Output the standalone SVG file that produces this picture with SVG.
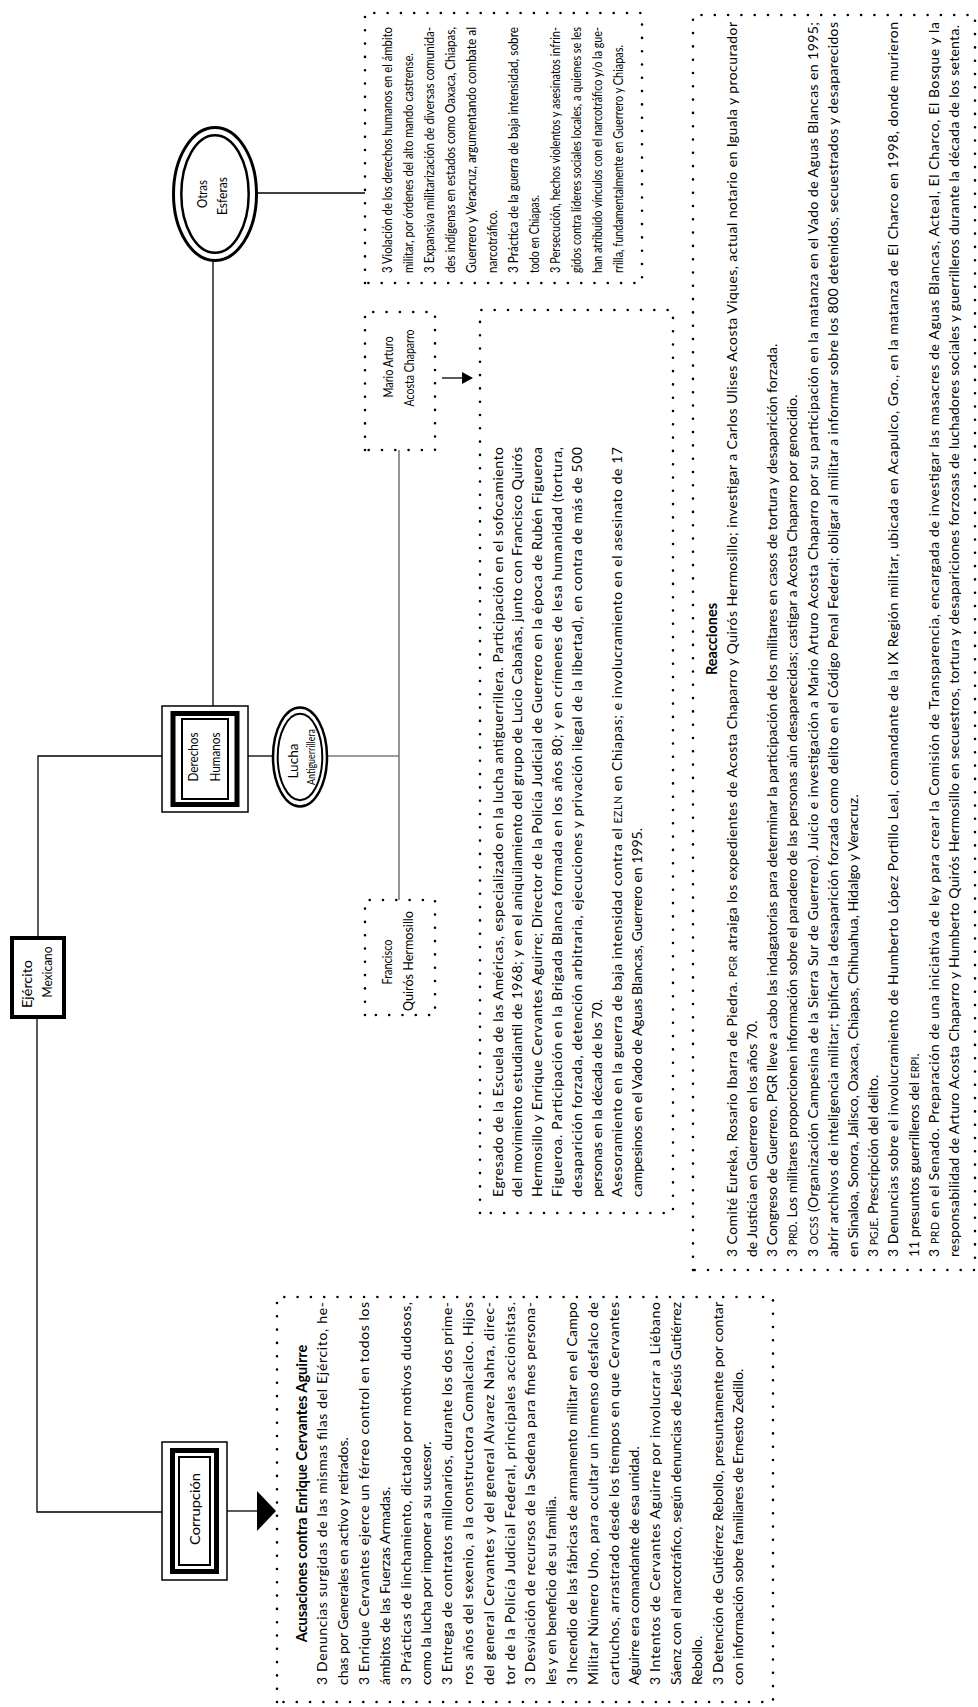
<svg xmlns="http://www.w3.org/2000/svg" width="978" height="1707" viewBox="0 0 978 1707">
<style>
 text{font-family:Lato,"Open Sans","Liberation Sans",sans-serif;fill:#000}
 .b{font-size:14px}
 .m{font-size:14px}
 .o{font-size:13px}
 .t{font-size:14.5px;font-weight:bold}
 .lbl{font-size:14px}
 .sc{font-size:10.5px}
 .dot{fill:none;stroke:#000;stroke-width:2.6;stroke-linecap:round;stroke-dasharray:0 13.3}
 .ln{fill:none;stroke:#000;stroke-width:1.3}
 .gr{fill:none;stroke:#7a7a7a;stroke-width:1.6}
 .thin{fill:#fff;stroke:#000;stroke-width:1.5}
 .thick{fill:none;stroke:#000;stroke-width:5}
 .in{fill:none;stroke:#000;stroke-width:2}
</style>
<rect width="978" height="1707" fill="#fff"/>
<g transform="translate(0,1707) rotate(-90)">
 <g id="connectors">
  <polyline class="ln" points="771,38 951,38 951,162"/>
  <polyline class="ln" points="688,37 195,37 195,162"/>
  <line class="ln" x1="1001" y1="213" x2="1446" y2="213"/>
  <line class="ln" x1="1514" y1="257" x2="1514" y2="365"/>
  <line class="ln" x1="951" y1="248" x2="951" y2="272"/>
  <line class="gr" x1="951" y1="328" x2="951" y2="399"/>
  <line class="gr" x1="1257" y1="399" x2="807" y2="399"/>
  <line class="ln" x1="1329" y1="442" x2="1329" y2="463"/>
  <polygon points="1323,462 1335,462 1329,473"/>
  <line class="ln" x1="196" y1="227" x2="196" y2="258"/>
  <polygon points="176,257 216,257 196,276"/>
 </g>

 <g id="ejercito">
  <rect x="690" y="12" width="79" height="52" fill="#fff" stroke="#000" stroke-width="4"/>
  <text class="lbl" x="723" y="32" text-anchor="middle" textLength="48" lengthAdjust="spacingAndGlyphs">Ejército</text>
  <text class="lbl" x="735" y="52" text-anchor="middle" textLength="51" lengthAdjust="spacingAndGlyphs">Mexicano</text>
 </g>

 <g id="derechos">
  <rect class="thin" x="895" y="162" width="106" height="86"/>
  <rect class="thick" x="902.5" y="173" width="91" height="64"/>
  <rect class="in" x="908" y="182" width="80" height="46"/>
  <text class="lbl" x="950" y="197.5" text-anchor="middle" textLength="49" lengthAdjust="spacingAndGlyphs">Derechos</text>
  <text class="lbl" x="950" y="219.5" text-anchor="middle" textLength="49" lengthAdjust="spacingAndGlyphs">Humanos</text>
 </g>

 <g id="corrupcion">
  <rect class="thin" x="127" y="162" width="138" height="65"/>
  <rect class="thick" x="135.5" y="172.5" width="121" height="44"/>
  <rect class="in" x="142" y="179" width="108" height="31"/>
  <text class="lbl" x="198" y="199.5" text-anchor="middle" textLength="72" lengthAdjust="spacingAndGlyphs">Corrupción</text>
 </g>

 <g id="otras-esferas">
  <ellipse cx="1513" cy="215" rx="66.5" ry="41.5" fill="#fff" stroke="#000" stroke-width="3"/>
  <ellipse cx="1513" cy="215" rx="58.7" ry="33.7" fill="none" stroke="#000" stroke-width="2.5"/>
  <text class="lbl" x="1513" y="206.5" text-anchor="middle" textLength="28" lengthAdjust="spacingAndGlyphs">Otras</text>
  <text class="lbl" x="1511" y="226.5" text-anchor="middle" textLength="38" lengthAdjust="spacingAndGlyphs">Esferas</text>
 </g>

 <g id="lucha">
  <ellipse cx="950" cy="300" rx="49.5" ry="27" fill="#fff" stroke="#000" stroke-width="2.5"/>
  <ellipse cx="950" cy="300" rx="43.2" ry="22.3" fill="none" stroke="#000" stroke-width="2"/>
  <text x="946" y="298" font-size="13.5" text-anchor="middle" textLength="35" lengthAdjust="spacingAndGlyphs">Lucha</text>
  <text x="950" y="315" font-size="11" text-anchor="middle" textLength="56" lengthAdjust="spacingAndGlyphs">Antiguerrillera</text>
 </g>

 <g id="mario">
  <rect class="dot" x="1257" y="365" width="138" height="70"/>
  <text class="lbl" x="1340" y="392.5" text-anchor="middle" textLength="61" lengthAdjust="spacingAndGlyphs">Mario Arturo</text>
  <text class="lbl" x="1339" y="413.5" text-anchor="middle" textLength="77" lengthAdjust="spacingAndGlyphs">Acosta Chaparro</text>
 </g>

 <g id="francisco">
  <rect class="dot" x="692" y="365" width="115" height="70"/>
  <text class="lbl" x="745" y="391.5" text-anchor="middle" textLength="45" lengthAdjust="spacingAndGlyphs">Francisco</text>
  <text class="lbl" x="746" y="412.5" text-anchor="middle" textLength="100" lengthAdjust="spacingAndGlyphs">Quirós Hermosillo</text>
 </g>

 <g id="otras-texto">
  <rect class="dot" x="1424" y="365" width="270" height="277"/>
  <text class="o" transform="translate(1434,391.5) scale(0.78,1)" textLength="315.4" lengthAdjust="spacingAndGlyphs">3 Violación de los derechos humanos en el ámbito</text>
  <text class="o" transform="translate(1434,412.5) scale(0.78,1)" textLength="282" lengthAdjust="spacingAndGlyphs">militar, por órdenes del alto mando castrense.</text>
  <text class="o" transform="translate(1434,433.5) scale(0.78,1)" textLength="315.4" lengthAdjust="spacingAndGlyphs">3 Expansiva militarización de diversas comunida-</text>
  <text class="o" transform="translate(1434,454.5) scale(0.78,1)" textLength="315.4" lengthAdjust="spacingAndGlyphs">des indígenas en estados como Oaxaca, Chiapas,</text>
  <text class="o" transform="translate(1434,475.5) scale(0.78,1)" textLength="315.4" lengthAdjust="spacingAndGlyphs">Guerrero y Veracruz, argumentando combate al</text>
  <text class="o" transform="translate(1434,496.5) scale(0.78,1)" textLength="80.8" lengthAdjust="spacingAndGlyphs">narcotráfico.</text>
  <text class="o" transform="translate(1434,517.5) scale(0.78,1)" textLength="315.4" lengthAdjust="spacingAndGlyphs">3 Práctica de la guerra de baja intensidad, sobre</text>
  <text class="o" transform="translate(1434,538.5) scale(0.78,1)" textLength="100" lengthAdjust="spacingAndGlyphs">todo en Chiapas.</text>
  <text class="o" transform="translate(1434,559.5) scale(0.78,1)" textLength="315.4" lengthAdjust="spacingAndGlyphs">3 Persecución, hechos violentos y asesinatos infrin-</text>
  <text class="o" transform="translate(1434,580.5) scale(0.78,1)" textLength="315.4" lengthAdjust="spacingAndGlyphs">gidos contra líderes sociales locales, a quienes se les</text>
  <text class="o" transform="translate(1434,601.5) scale(0.78,1)" textLength="315.4" lengthAdjust="spacingAndGlyphs">han atribuido vínculos con el narcotráfico y/o la gue-</text>
  <text class="o" transform="translate(1434,622.5) scale(0.78,1)" textLength="292.3" lengthAdjust="spacingAndGlyphs">rrilla, fundamentalmente en Guerrero y Chiapas.</text>
 </g>

 <g id="trayectoria">
  <rect class="dot" x="494" y="480" width="903" height="193"/>
  <text class="m" x="510" y="502.5" textLength="750" lengthAdjust="spacing">Egresado de la Escuela de las Américas, especializado en la lucha antiguerrillera. Participación en el sofocamiento</text>
  <text class="m" x="510" y="522.4" textLength="750" lengthAdjust="spacing">del movimiento estudiantil de 1968; y en el aniquilamiento del grupo de Lucio Cabañas, junto con Francisco Quirós</text>
  <text class="m" x="510" y="542.3" textLength="750" lengthAdjust="spacing">Hermosillo y Enrique Cervantes Aguirre; Director de la Policía Judicial de Guerrero en la época de Rubén Figueroa</text>
  <text class="m" x="510" y="562.2" textLength="750" lengthAdjust="spacing">Figueroa. Participación en la Brigada Blanca formada en los años 80; y en crímenes de lesa humanidad (tortura,</text>
  <text class="m" x="510" y="582.1" textLength="750" lengthAdjust="spacing">desaparición forzada, detención arbitraria, ejecuciones y privación ilegal de la libertad), en contra de más de 500</text>
  <text class="m" x="510" y="602">personas en la década de los 70.</text>
  <text class="m" x="510" y="621.9" textLength="750" lengthAdjust="spacing">Asesoramiento en la guerra de baja intensidad contra el <tspan class="sc">EZLN</tspan> en Chiapas; e involucramiento en el asesinato de 17</text>
  <text class="m" x="510" y="641.8">campesinos en el Vado de Aguas Blancas, Guerrero en 1995.</text>
 </g>

 <g id="reacciones">
  <rect class="dot" x="437" y="693" width="1255" height="282"/>
  <text class="t" x="1068" y="716.5" text-anchor="middle">Reacciones</text>
  <text class="b" x="450" y="736.7" textLength="1235" lengthAdjust="spacing">3 Comité Eureka, Rosario Ibarra de Piedra. <tspan class="sc">PGR</tspan> atraiga los expedientes de Acosta Chaparro y Quirós Hermosillo; investigar a Carlos Ulises Acosta Viques, actual notario en Iguala y procurador</text>
  <text class="b" x="450" y="756.9">de Justicia en Guerrero en los años 70.</text>
  <text class="b" x="450" y="777.1">3 Congreso de Guerrero. PGR lleve a cabo las indagatorias para determinar la participación de los militares en casos de tortura y desaparición forzada.</text>
  <text class="b" x="450" y="797.3">3 <tspan class="sc">PRD</tspan>. Los militares proporcionen información sobre el paradero de las personas aún desaparecidas; castigar a Acosta Chaparro por genocidio.</text>
  <text class="b" x="450" y="817.5" textLength="1235" lengthAdjust="spacing">3 <tspan class="sc">OCSS</tspan> (Organización Campesina de la Sierra Sur de Guerrero). Juicio e investigación a Mario Arturo Acosta Chaparro por su participación en la matanza en el Vado de Aguas Blancas en 1995;</text>
  <text class="b" x="450" y="837.7" textLength="1235" lengthAdjust="spacing">abrir archivos de inteligencia militar; tipificar la desaparición forzada como delito en el Código Penal Federal; obligar al militar a informar sobre los 800 detenidos, secuestrados y desaparecidos</text>
  <text class="b" x="450" y="857.9">en Sinaloa, Sonora, Jalisco, Oaxaca, Chiapas, Chihuahua, Hidalgo y Veracruz.</text>
  <text class="b" x="450" y="878.1">3 <tspan class="sc">PGJE</tspan>. Prescripción del delito.</text>
  <text class="b" x="450" y="898.3" textLength="1235" lengthAdjust="spacing">3 Denuncias sobre el involucramiento de Humberto López Portillo Leal, comandante de la IX Región militar, ubicada en Acapulco, Gro., en la matanza de El Charco en 1998, donde murieron</text>
  <text class="b" x="450" y="918.5">11 presuntos guerrilleros del <tspan class="sc">ERPI</tspan>.</text>
  <text class="b" x="450" y="938.7" textLength="1235" lengthAdjust="spacing">3 <tspan class="sc">PRD</tspan> en el Senado. Preparación de una iniciativa de ley para crear la Comisión de Transparencia, encargada de investigar las masacres de Aguas Blancas, Acteal, El Charco, El Bosque y la</text>
  <text class="b" x="450" y="958.9" textLength="1232" lengthAdjust="spacing">responsabilidad de Arturo Acosta Chaparro y Humberto Quirós Hermosillo en secuestros, tortura y desapariciones forzosas de luchadores sociales y guerrilleros durante la década de los setenta.</text>
 </g>

 <g id="acusaciones">
  <rect class="dot" x="5" y="277" width="405" height="496"/>
  <text class="t" x="213.5" y="306.5" text-anchor="middle">Acusaciones contra Enrique Cervantes Aguirre</text>
  <text class="b" x="22" y="327.3" textLength="383" lengthAdjust="spacing">3 Denuncias surgidas de las mismas filas del Ejército, he-</text>
  <text class="b" x="22" y="348.1">chas por Generales en activo y retirados.</text>
  <text class="b" x="22" y="368.9" textLength="383" lengthAdjust="spacing">3 Enrique Cervantes ejerce un férreo control en todos los</text>
  <text class="b" x="22" y="389.7">ámbitos de las Fuerzas Armadas.</text>
  <text class="b" x="22" y="410.5" textLength="383" lengthAdjust="spacing">3 Prácticas de linchamiento, dictado por motivos dudosos,</text>
  <text class="b" x="22" y="431.3">como la lucha por imponer a su sucesor.</text>
  <text class="b" x="22" y="452.1" textLength="383" lengthAdjust="spacing">3 Entrega de contratos millonarios, durante los dos prime-</text>
  <text class="b" x="22" y="472.9" textLength="383" lengthAdjust="spacing">ros años del sexenio, a la constructora Comalcalco. Hijos</text>
  <text class="b" x="22" y="493.7" textLength="383" lengthAdjust="spacing">del general Cervantes y del general Alvarez Nahra, direc-</text>
  <text class="b" x="22" y="514.5" textLength="383" lengthAdjust="spacing">tor de la Policía Judicial Federal, principales accionistas.</text>
  <text class="b" x="22" y="535.3" textLength="383" lengthAdjust="spacing">3 Desviación de recursos de la Sedena para fines persona-</text>
  <text class="b" x="22" y="556.1">les y en beneficio de su familia.</text>
  <text class="b" x="22" y="576.9" textLength="383" lengthAdjust="spacing">3 Incendio de las fábricas de armamento militar en el Campo</text>
  <text class="b" x="22" y="597.7" textLength="383" lengthAdjust="spacing">Militar Número Uno, para ocultar un inmenso desfalco de</text>
  <text class="b" x="22" y="618.5" textLength="383" lengthAdjust="spacing">cartuchos, arrastrado desde los tiempos en que Cervantes</text>
  <text class="b" x="22" y="639.3">Aguirre era comandante de esa unidad.</text>
  <text class="b" x="22" y="660.1" textLength="383" lengthAdjust="spacing">3 Intentos de Cervantes Aguirre por involucrar a Liébano</text>
  <text class="b" x="22" y="680.9" textLength="383" lengthAdjust="spacing">Sáenz con el narcotráfico, según denuncias de Jesús Gutiérrez</text>
  <text class="b" x="22" y="701.7">Rebollo.</text>
  <text class="b" x="22" y="722.5" textLength="383" lengthAdjust="spacing">3 Detención de Gutiérrez Rebollo, presuntamente por contar</text>
  <text class="b" x="22" y="743.3">con información sobre familiares de Ernesto Zedillo.</text>
 </g>
</g>
</svg>
